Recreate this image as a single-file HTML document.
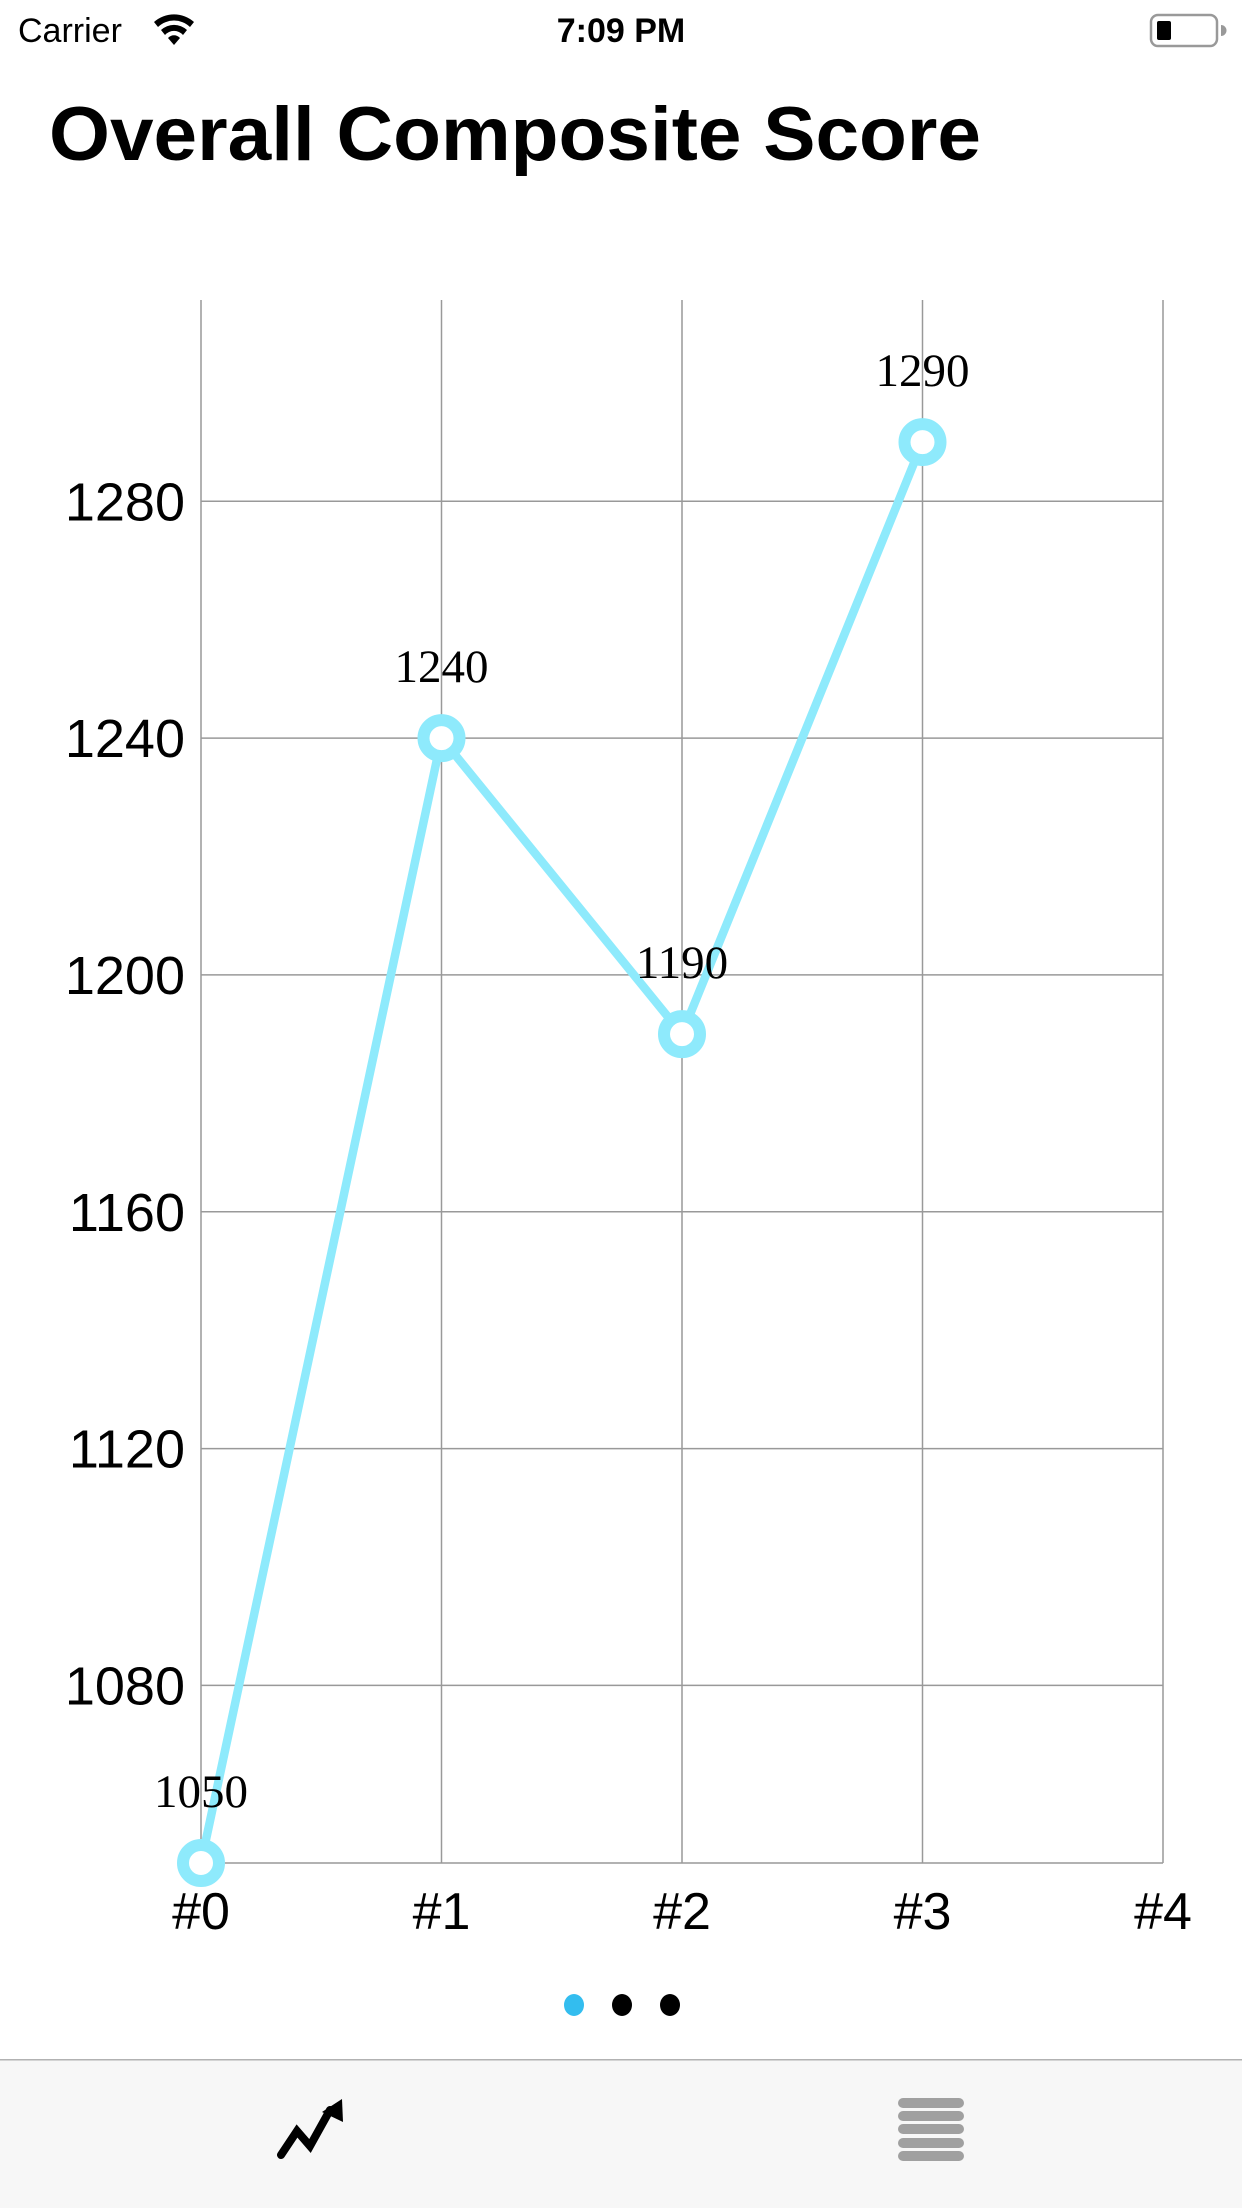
<!DOCTYPE html>
<html><head><meta charset="utf-8"><style>
html,body{margin:0;padding:0;background:#fff;width:1242px;height:2208px;overflow:hidden}
svg{display:block}
</style></head><body>
<svg width="1242" height="2208" viewBox="0 0 1242 2208" xmlns="http://www.w3.org/2000/svg">
  <g>
    <text x="18" y="42" font-family="Liberation Sans, sans-serif" font-size="34" fill="#000">Carrier</text>
    <g fill="#000">
      <path d="M154 22 a30 30 0 0 1 40 0 l-4 5 a23 23 0 0 0 -32 0z"/>
      <path d="M161 30 a19 19 0 0 1 26 0 l-4 5 a12 12 0 0 0 -18 0z"/>
      <path d="M168 38 a8 8 0 0 1 12 0 l-6 7z"/>
    </g>
    <text x="621" y="42" text-anchor="middle" font-family="Liberation Sans, sans-serif" font-weight="bold" font-size="34" fill="#000">7:09 PM</text>
    <g>
      <rect x="1151" y="15" width="66" height="31" rx="7" fill="none" stroke="#999" stroke-width="2.5"/>
      <rect x="1157" y="21" width="14" height="19" rx="2" fill="#000"/>
      <path d="M1221 25 a5 5 0 0 1 0 11z" fill="#999"/>
    </g>
  </g>
  <text x="49" y="160" font-family="Liberation Sans, sans-serif" font-weight="bold" font-size="76" textLength="932" lengthAdjust="spacingAndGlyphs" fill="#000">Overall Composite Score</text>
  <g id="chart"></g>
  <g>
    <ellipse cx="574" cy="2005" rx="10" ry="11" fill="#33BDEF"/>
    <ellipse cx="622" cy="2005" rx="10" ry="11" fill="#000"/>
    <ellipse cx="670" cy="2005" rx="10" ry="11" fill="#000"/>
  </g>
  <g>
    <rect x="0" y="2060" width="1242" height="148" fill="#f7f7f7"/>
    <rect x="0" y="2059" width="1242" height="1.5" fill="#b2b2b2"/>
    <g>
      <polyline points="281,2155 297,2131 310,2146 330,2110" fill="none" stroke="#000" stroke-width="8" stroke-linecap="round" stroke-linejoin="miter"/>
      <polygon points="342,2099 343,2122 322,2112" fill="#000"/>
    </g>
    <g fill="#a0a0a0">
      <rect x="898" y="2098" width="66" height="10" rx="5"/>
      <rect x="898" y="2111" width="66" height="10" rx="5"/>
      <rect x="898" y="2124" width="66" height="10" rx="5"/>
      <rect x="898" y="2138" width="66" height="10" rx="5"/>
      <rect x="898" y="2151" width="66" height="10" rx="5"/>
    </g>
  </g>
</svg>
<script>
const categories = ["#0", "#1", "#2", "#3", "#4"];
const scores = [1050, 1240, 1190, 1290];
const yTicks = [1080, 1120, 1160, 1200, 1240, 1280];
const yMin = 1050, yMax = 1314;

const NS = "http://www.w3.org/2000/svg";
const chartG = document.getElementById("chart");
const plotLeft = 201, plotRight = 1163, plotTop = 300, plotBottom = 1863;
function xPos(i){ return plotLeft + (plotRight-plotLeft) * i / (categories.length - 1); }
function yPos(v){ return plotBottom - (plotBottom-plotTop) * (v - yMin) / (yMax - yMin); }
function mk(tag, attrs){ const e = document.createElementNS(NS, tag); for (const k in attrs) e.setAttribute(k, attrs[k]); chartG.appendChild(e); return e; }

yTicks.forEach(t => {
  const l = mk("line", {x1:plotLeft, x2:plotRight, y1:yPos(t), y2:yPos(t), stroke:"#999", "stroke-width":1.5});
  
  
  const tx = mk("text", {x:185, y:yPos(t)+19, "text-anchor":"end", "font-family":"Liberation Sans, sans-serif", "font-size":54, fill:"#000"});
  tx.textContent = t;
  
  
});
const base = mk("line", {x1:plotLeft, x2:plotRight, y1:plotBottom, y2:plotBottom, stroke:"#999", "stroke-width":1.5});


categories.forEach((c, i) => {
  const l = mk("line", {x1:xPos(i), x2:xPos(i), y1:plotTop, y2:plotBottom, stroke:"#999", "stroke-width":1.5});
  
  
  const tx = mk("text", {x:xPos(i), y:1929, "text-anchor":"middle", "font-family":"Liberation Sans, sans-serif", "font-size":52, fill:"#000"});
  tx.textContent = c;
  
  
});
const pts = scores.map((v, i) => xPos(i) + "," + yPos(v)).join(" ");
const line = mk("polyline", {points:pts, fill:"none", stroke:"#8EEAFC", "stroke-width":8.5, "stroke-linejoin":"miter"});


scores.forEach((v, i) => {
  const c = mk("circle", {cx:xPos(i), cy:yPos(v), r:18, fill:"#fff", stroke:"#8EEAFC", "stroke-width":12});
  
  
  const tx = mk("text", {x:xPos(i), y:yPos(v)-56, "text-anchor":"middle", "font-family":"Liberation Serif, serif", "font-size":47, fill:"#000"});
  tx.textContent = v;
  
  
});
</script>
</body></html>
